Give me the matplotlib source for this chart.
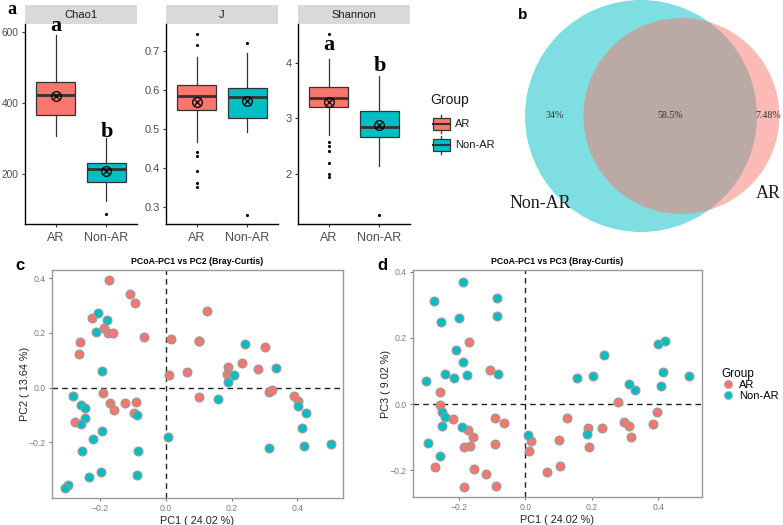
import numpy as np
import matplotlib
matplotlib.use('Agg')
import matplotlib.pyplot as plt
from matplotlib.patches import Circle, Rectangle

plt.rcParams['font.family'] = ['Liberation Sans', 'DejaVu Sans']

# ---- data ----
groups = ['AR', 'Non-AR']
colors = ['#F8766D', '#00BFC4']

# boxplot 5-number summaries: whislo, q1, med, q3, whishi
chao1_box = [[307, 366, 423, 459, 593], [122, 176, 212, 230, 300]]
chao1_mean = [420, 207]
chao1_out = [[], [85]]
chao1_letters = [('a', 617), ('b', 319)]

j_box = [[0.467, 0.549, 0.583, 0.613, 0.683], [0.493, 0.527, 0.581, 0.604, 0.694]]
j_mean = [0.568, 0.570]
j_out = [[0.742, 0.714, 0.44, 0.431, 0.393, 0.361, 0.351], [0.72, 0.28]]

shannon_box = [[2.70, 3.20, 3.37, 3.57, 4.06], [2.14, 2.67, 2.85, 3.14, 3.76]]
shannon_mean = [3.29, 2.89]
shannon_out = [[4.51, 2.58, 2.51, 2.42, 2.2, 2.0, 1.96], [1.27]]
shannon_letters = [('a', 4.32), ('b', 3.93)]

# venn (percent of features)
only_nonar = 34
shared = 58.5
only_ar = 7.48

# PCoA PC1 vs PC2
c_ar_x = [-0.174, -0.108, -0.093, -0.223, -0.188, -0.176, -0.162, -0.066, -0.262, -0.263,
          -0.19, -0.171, -0.158, -0.124, -0.092, -0.096, -0.276, 0.015, 0.011, 0.066, 0.1, 0.102,
          0.125, 0.101, 0.19, 0.185, 0.193, 0.231, 0.281, 0.302, 0.314, 0.323, 0.389, 0.402]
c_ar_y = [0.395, 0.343, 0.311, 0.254, 0.217, 0.201, 0.2, 0.186, 0.168, 0.123,
          -0.019, -0.055, -0.08, -0.056, -0.051, -0.092, -0.125, 0.179, 0.046, 0.058, 0.17, -0.034,
          0.282, 0.172, 0.074, 0.05, 0.038, 0.089, 0.068, 0.149, -0.015, -0.01, -0.03, -0.05]
c_non_x = [-0.205, -0.179, -0.213, -0.193, -0.281, -0.258, -0.245, -0.247, -0.258, -0.086,
           -0.193, -0.22, -0.254, -0.083, -0.197, -0.089, -0.234, -0.298, -0.306, 0.008,
           0.24, 0.336, 0.206, 0.188, 0.159, 0.402, 0.427, 0.413, 0.313, 0.419, 0.501]
c_non_y = [0.274, 0.246, 0.203, 0.062, -0.032, -0.063, -0.075, -0.111, -0.133, -0.099,
           -0.157, -0.186, -0.23, -0.232, -0.307, -0.32, -0.328, -0.354, -0.366, -0.181,
           0.159, 0.073, 0.048, 0.022, -0.042, -0.067, -0.094, -0.148, -0.219, -0.214, -0.205]

# PCoA PC1 vs PC3
d_ar_x = [-0.169, -0.106, -0.257, -0.258, -0.219, -0.174, -0.159, -0.09, -0.063, -0.184,
          -0.166, -0.092, -0.154, -0.119, -0.271, -0.186, -0.089, 0.016, 0.012, 0.124, 0.1,
          0.105, 0.065, 0.277, 0.397, 0.297, 0.311, 0.384, 0.318, 0.229, 0.188, 0.19]
d_ar_y = [0.187, 0.102, 0.036, -0.001, -0.045, -0.077, -0.098, -0.043, -0.056, -0.128,
          -0.127, -0.121, -0.196, -0.211, -0.188, -0.251, -0.246, -0.111, -0.14, -0.041, -0.107,
          -0.185, -0.205, 0.007, -0.022, -0.053, -0.065, -0.059, -0.1, -0.073, -0.073, -0.13]
d_non_x = [-0.189, -0.275, -0.084, -0.086, -0.253, -0.2, -0.21, -0.188, -0.242, -0.215,
           -0.176, -0.081, -0.299, -0.252, -0.241, -0.25, -0.192, -0.292, -0.256, 0.007, 0.156,
           0.235, 0.203, 0.31, 0.331, 0.398, 0.421, 0.413, 0.408, 0.493, 0.184]
d_non_y = [0.37, 0.311, 0.32, 0.267, 0.248, 0.261, 0.163, 0.128, 0.092, 0.078,
           0.089, 0.092, 0.071, -0.025, -0.039, -0.067, -0.07, -0.116, -0.155, -0.092, 0.079,
           0.149, 0.084, 0.06, 0.044, 0.183, 0.19, 0.098, 0.056, 0.084, -0.09]

W, H = 783, 525
fig = plt.figure(figsize=(W / 100, H / 100), dpi=100)


def rect(x0, y0, x1, y1):
    return [x0 / W, 1 - y1 / H, (x1 - x0) / W, (y1 - y0) / H]


def ftext(x, y, s, **kw):
    fig.text(x / W, 1 - y / H, s, **kw)


serif = ['Liberation Serif', 'DejaVu Serif']
grey = '#4D4D4D'


def alpha_panel(x0, x1, title, boxes, means, outs, ylim, yticks, letters=None, ysize=8):
    st = fig.add_axes(rect(x0, 5, x1, 24))
    st.set_facecolor('#D9D9D9')
    st.set_xticks([]); st.set_yticks([])
    for s in st.spines.values():
        s.set_visible(False)
    st.text(0.5, 0.5, title, ha='center', va='center', fontsize=8, color='#1A1A1A', transform=st.transAxes)

    ax = fig.add_axes(rect(x0, 24, x1, 224))
    stats = []
    for b, o in zip(boxes, outs):
        stats.append(dict(whislo=b[0], q1=b[1], med=b[2], q3=b[3], whishi=b[4], fliers=o))
    bp = ax.bxp(stats, positions=[1, 2], widths=0.75, patch_artist=True, showcaps=False,
                boxprops=dict(edgecolor='#333333', linewidth=0.9),
                whiskerprops=dict(color='#333333', linewidth=0.9),
                medianprops=dict(color='#333333', linewidth=2),
                flierprops=dict(marker='.', markersize=2.5, markerfacecolor='black', markeredgecolor='black'))
    for p, c in zip(bp['boxes'], colors):
        p.set_facecolor(c)
    ax.plot([1, 2], means, 'o', mfc='none', mec='black', ms=7, mew=0.9, zorder=5)
    ax.plot([1, 2], means, 'x', color='black', ms=4.8, mew=0.9, zorder=5)
    if letters:
        for i, (l, y) in enumerate(letters):
            ax.text(i + 1, y, l, ha='center', va='center', fontsize=16, fontweight='bold', family=serif)
    ax.set_xlim(0.4, 2.6)
    ax.set_ylim(*ylim)
    ax.set_yticks(yticks)
    ax.set_xticks([1, 2])
    ax.set_xticklabels(groups, fontsize=9, color=grey)
    ax.tick_params(axis='y', labelsize=ysize, labelcolor=grey, length=2.5, color='#333333', pad=2)
    ax.tick_params(axis='x', length=2.5, color='#333333')
    for s in ['top', 'right']:
        ax.spines[s].set_visible(False)
    for s in ['left', 'bottom']:
        ax.spines[s].set_linewidth(1)
    return ax


alpha_panel(25, 137, 'Chao1', chao1_box, chao1_mean, chao1_out, (58, 623), [200, 400, 600], chao1_letters, ysize=7.3)
alpha_panel(166, 278, 'J', j_box, j_mean, j_out, (0.257, 0.768), [0.3, 0.4, 0.5, 0.6, 0.7])
alpha_panel(298, 410, 'Shannon', shannon_box, shannon_mean, shannon_out, (1.11, 4.69), [2, 3, 4], shannon_letters)

# legend for panel a
ftext(430, 100, 'Group', fontsize=10, va='center', ha='left', color='#1A1A1A')
lg = fig.add_axes(rect(425, 110, 500, 160))
lg.set_xlim(425, 500); lg.set_ylim(160, 110); lg.axis('off')
for i, (g, c) in enumerate(zip(groups, colors)):
    yc = 124 + 21 * i
    lg.add_patch(Rectangle((433, yc - 6), 16.5, 12, facecolor=c, edgecolor='#333333', lw=0.9))
    lg.plot([433, 449.5], [yc, yc], color='#333333', lw=1.5)
    lg.plot([441.2, 441.2], [yc - 9, yc - 6], color='#333333', lw=0.9)
    lg.plot([441.2, 441.2], [yc + 6, yc + 9], color='#333333', lw=0.9)
    lg.text(455, yc, g, fontsize=8, va='center', ha='left', color='#1A1A1A')

ftext(7, 9, 'a', fontsize=13, fontweight='bold', family=serif, va='center')

# ---- panel b: area-proportional venn ----
r1 = np.sqrt((only_nonar + shared) / np.pi)
r2 = np.sqrt((shared + only_ar) / np.pi)


def lens(d):
    a1 = r1 ** 2 * np.arccos((d * d + r1 * r1 - r2 * r2) / (2 * d * r1))
    a2 = r2 ** 2 * np.arccos((d * d + r2 * r2 - r1 * r1) / (2 * d * r2))
    a3 = 0.5 * np.sqrt((-d + r1 + r2) * (d + r1 - r2) * (d - r1 + r2) * (d + r1 + r2))
    return a1 + a2 - a3


lo, hi = abs(r1 - r2) + 1e-9, r1 + r2 - 1e-9
for _ in range(80):
    mid = (lo + hi) / 2
    if lens(mid) > shared:
        lo = mid
    else:
        hi = mid
dist = (lo + hi) / 2

vx = fig.add_axes(rect(500, 0, 783, 240))
scale = 116 / r1  # pixels per unit
vx.set_xlim(-141 / scale, 142 / scale)
vx.set_ylim(-124 / scale, 116 / scale)
vx.axis('off')
vx.add_patch(Circle((0, 0), r1, facecolor=colors[1], alpha=0.5, lw=0))
vx.add_patch(Circle((dist, 0), r2, facecolor=colors[0], alpha=0.5, lw=0))
for xpos, lab in [((-r1 + dist - r2) / 2, f'{only_nonar}%'), ((dist - r2 + r1) / 2, f'{shared}%'),
                  ((r1 + dist + r2) / 2, f'{only_ar}%')]:
    vx.text(xpos, 0, lab, ha='center', va='center', fontsize=7.2, family=serif, color='#333333')
ftext(540, 203, 'Non-AR', fontsize=13, family=serif, ha='center', va='center', color='#1A1A1A')
ftext(768, 193, 'AR', fontsize=13, family=serif, ha='center', va='center', color='#1A1A1A')
ftext(523, 15, 'b', fontsize=11, fontweight='bold', ha='center', va='center')


# ---- panels c, d ----
def pcoa_panel(box, xs, ys, xlim, ylim, title, ylab):
    ax = fig.add_axes(rect(*box))
    for x, y, c in zip(xs, ys, colors):
        ax.scatter(x, y, s=40, c=c, edgecolors='#9A9A9A', linewidths=0.9, zorder=3)
    ax.axhline(0, color='#222222', ls=(0, (4, 3)), lw=1)
    ax.axvline(0, color='#222222', ls=(0, (4, 3)), lw=1)
    ax.set_xlim(*xlim); ax.set_ylim(*ylim)
    ax.set_xticks([-0.2, 0.0, 0.2, 0.4]); ax.set_yticks([-0.2, 0.0, 0.2, 0.4])
    ax.tick_params(labelsize=6.2, labelcolor='#7A7A7A', color='#7A7A7A', length=2.5, pad=2)
    for s in ax.spines.values():
        s.set_color('#9A9A9A'); s.set_linewidth(1)
    ax.set_title(title, fontsize=6.3, fontweight='bold', pad=4)
    ax.set_xlabel('PC1 ( 24.02 %)', fontsize=7.8, labelpad=2, color='#222222')
    ax.set_ylabel(ylab, fontsize=7.8, labelpad=-1, color='#222222')
    return ax


pcoa_panel((52, 270, 343, 498), [c_ar_x, c_non_x], [c_ar_y, c_non_y], (-0.346, 0.539), (-0.403, 0.43),
           'PCoA-PC1 vs PC2 (Bray-Curtis)', 'PC2 ( 13.64 %)')
pcoa_panel((413, 270, 702, 497), [d_ar_x, d_non_x], [d_ar_y, d_non_y], (-0.338, 0.531), (-0.28, 0.405),
           'PCoA-PC1 vs PC3 (Bray-Curtis)', 'PC3 ( 9.02 %)')

handles = [plt.Line2D([], [], ls='', marker='o', ms=6, mfc=c, mec='#BDBDBD', mew=0.8) for c in colors]
fig.legend(handles, groups, title='Group', loc='upper left', bbox_to_anchor=(716 / W, 1 - 362 / H),
           frameon=False, fontsize=8, title_fontsize=8.5, alignment='left', handletextpad=0.4,
           labelspacing=0.05, borderpad=0, handlelength=1.2)

ftext(20, 265, 'c', fontsize=12, fontweight='bold', ha='center', va='center')
ftext(382, 265, 'd', fontsize=12, fontweight='bold', ha='center', va='center')

fig.savefig('out.png', dpi=100)
